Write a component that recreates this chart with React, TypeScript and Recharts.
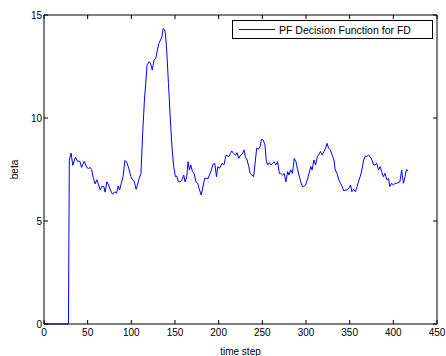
import React from 'react';
import { LineChart, Line, XAxis, YAxis, ReferenceLine } from 'recharts';

// time steps
const timeSteps = [
  0, 28, 29, 31, 33, 36, 38.5, 41, 43, 46, 49, 51, 53, 54.5, 56.5, 58.5, 60.5, 62.5, 64.5, 66, 68.5, 70, 72,
  74, 76, 78.5, 81, 83, 85, 86.5, 88.5, 90.5, 92.5, 94.5, 97, 99.5, 101.5, 103.5, 105.5, 107, 109, 111, 113,
  115, 116.5, 118, 120.5, 122, 124, 126, 128, 129.5, 131.5, 133.5, 135, 136.5, 138, 139, 140.5, 142.5, 144.5,
  146.5, 148.5, 150.5, 152, 154, 156, 158, 160, 161.5, 163.5, 165, 166.5, 168, 170, 172, 174, 176, 177.5,
  180, 184, 188, 191, 193.5, 195.5, 197.5, 199, 201, 204, 206, 208.5, 211.5, 213.5, 215, 217, 219.5, 221,
  223, 225, 227, 229, 230.5, 232.5, 234.5, 236, 238, 240, 241.5, 243.5, 245.5, 247.5, 249, 251, 253, 254.5,
  256, 258, 260, 261.5, 263.5, 265.5, 267.5, 269.5, 271, 273, 275, 277, 279, 280.5, 282.5, 284.5, 286.5,
  288.5, 290, 292, 294, 296, 297.5, 299.5, 301.5, 303.5, 305.5, 307, 309, 311, 313, 315, 316.5, 318.5, 320.5,
  322.5, 324, 326, 328, 330, 332, 333.5, 335.5, 337.5, 339.5, 341.5, 343, 345, 347, 349, 351, 352.5, 354.5,
  356.5, 358.5, 360, 362, 364, 366, 368, 369.5, 371.5, 373.5, 375.5, 377.5, 379, 381, 383, 385, 386.5, 388.5,
  390.5, 392.5, 394.5, 396, 398, 400, 402, 404, 405.5, 407.5, 409.5, 411.5, 413.5, 415, 417,
];

const beta = [
  0, 0, 7.96, 8.3, 7.7, 8.1, 7.9, 7.9, 7.6, 7.9, 7.6, 7.55, 7.6, 7.5, 7.07, 6.8, 7.0, 6.75, 6.5, 6.67, 6.67,
  6.4, 6.9, 6.75, 6.5, 6.3, 6.42, 6.35, 6.7, 6.5, 6.83, 7.15, 7.93, 7.88, 7.56, 7.15, 7.0, 6.9, 6.54, 6.75,
  7.07, 7.3, 9.26, 10.87, 11.68, 12.57, 12.73, 12.65, 12.33, 12.82, 12.9, 13.22, 13.62, 13.79, 13.95, 14.35,
  14.3, 14.1, 13.3, 11.68, 10.06, 8.6, 7.64, 7.15, 7.18, 6.9, 6.9, 7.0, 7.23, 6.9, 7.15, 7.88, 7.48, 7.72,
  7.4, 7.3, 6.9, 6.83, 6.59, 6.26, 7.07, 7.07, 7.4, 7.75, 7.8, 7.15, 7.64, 7.56, 7.8, 7.72, 8.2, 8.12, 8.28,
  8.4, 8.28, 8.2, 8.32, 8.04, 8.2, 8.25, 8.45, 8.12, 7.96, 7.64, 7.31, 7.23, 7.15, 7.72, 8.53, 8.48, 8.61,
  8.96, 8.93, 8.69, 7.96, 7.72, 7.83, 7.72, 7.8, 7.88, 7.72, 7.88, 7.31, 7.31, 7.23, 7.31, 6.9, 7.4, 7.23,
  7.48, 7.31, 8.04, 7.88, 7.56, 7.23, 6.9, 6.67, 6.67, 6.75, 7.0, 7.31, 7.64, 7.48, 7.96, 7.72, 8.12, 8.25,
  8.37, 8.2, 8.37, 8.53, 8.77, 8.53, 8.45, 8.2, 7.96, 7.48, 7.31, 7.0, 6.83, 6.67, 6.47, 6.5, 6.5, 6.59, 6.75,
  6.42, 6.54, 6.42, 6.67, 6.9, 7.15, 7.48, 7.96, 8.16, 8.12, 8.2, 8.12, 7.96, 7.72, 7.72, 7.8, 7.48, 7.64,
  7.4, 7.15, 7.31, 7.0, 7.07, 6.67, 6.83, 6.75, 6.83, 6.83, 6.86, 6.9, 7.48, 6.83, 7.15, 7.5, 7.44,
];

const xTicks = [0, 50, 100, 150, 200, 250, 300, 350, 400, 450];
const yTicks = [0, 5, 10, 15];

const seriesName = 'PF Decision Function for FD';

const data = timeSteps.map((t, i) => ({ t, beta: beta[i] }));

const xMax = xTicks[xTicks.length - 1];
const yMax = yTicks[yTicks.length - 1];
// inward tick length on the top/right box edges, in data units (~4px)
const xTickLen = xMax * 0.0102;
const yTickLen = yMax * 0.013;

const fontFamily = 'Liberation Sans, Arial, sans-serif';
const font = { fontFamily, fontSize: 10, fill: '#000' };

// legend drawn like MATLAB's boxed legend
const MatlabLegend = () => (
  <div
    style={{
      position: 'absolute',
      left: 232,
      top: 20,
      width: 199,
      height: 17,
      border: '1px solid #000',
      background: '#fff',
      display: 'flex',
      alignItems: 'center',
      fontFamily,
      fontSize: 10.5,
      color: '#000',
    }}
  >
    <svg width={46} height={17}>
      <line x1={6} x2={42} y1={8.5} y2={8.5} stroke="#0000ff" strokeWidth={1} />
    </svg>
    <span>{seriesName}</span>
  </div>
);

export default function App() {
  return (
    <div style={{ position: 'absolute', left: 0, top: 0, width: 446, height: 356, background: '#fff' }}>
      <LineChart width={446} height={356} data={data} margin={{ top: 15, right: 9, left: 0, bottom: 0 }}>
        <XAxis
          dataKey="t"
          type="number"
          domain={[0, xMax]}
          ticks={xTicks}
          interval={0}
          height={32}
          tickSize={-4}
          tickMargin={9}
          stroke="#000"
          tick={font}
          label={{ value: 'time step', position: 'insideBottom', offset: 1, style: font }}
        />
        <YAxis
          domain={[0, yMax]}
          ticks={yTicks}
          interval={0}
          width={44}
          tickSize={-4}
          tickMargin={6}
          stroke="#000"
          tick={font}
          label={{ value: 'beta', angle: -90, position: 'insideLeft', offset: 14, style: { ...font, textAnchor: 'middle' } }}
        />
        {/* top and right edges of the MATLAB axes box */}
        <ReferenceLine y={yMax} stroke="#000" strokeWidth={1} />
        <ReferenceLine x={xMax} stroke="#000" strokeWidth={1} />
        {xTicks.map((v) => (
          <ReferenceLine
            key={`tx${v}`}
            segment={[{ x: v, y: yMax }, { x: v, y: yMax - yTickLen }]}
            stroke="#000"
          />
        ))}
        {yTicks.map((v) => (
          <ReferenceLine
            key={`ty${v}`}
            segment={[{ x: xMax, y: v }, { x: xMax - xTickLen, y: v }]}
            stroke="#000"
          />
        ))}
        <Line
          type="linear"
          dataKey="beta"
          name={seriesName}
          stroke="#0000ff"
          strokeWidth={1}
          dot={false}
          isAnimationActive={false}
        />
      </LineChart>
      <MatlabLegend />
    </div>
  );
}
